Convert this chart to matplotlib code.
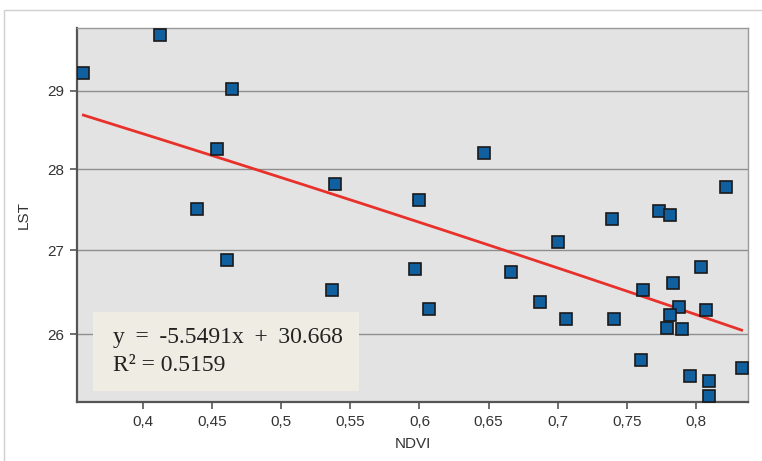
import numpy as np
import matplotlib
matplotlib.use("Agg")
import matplotlib.pyplot as plt
from matplotlib.ticker import FixedLocator, FuncFormatter, NullLocator
from matplotlib.patches import Rectangle

ndvi = [0.3571, 0.4127, 0.4645, 0.4537, 0.5387, 0.4395,
        0.6464, 0.5994, 0.8217, 0.7391, 0.7733, 0.7808,
        0.4607, 0.5368,
        0.7001, 0.5965, 0.6661, 0.8034, 0.7829, 0.7615, 0.6873, 0.6071,
        0.7877, 0.8072, 0.7808, 0.7059, 0.7408, 0.7791, 0.7897, 0.7603,
        0.8328, 0.7955, 0.8092, 0.8092]
lst = [29.24, 29.74, 29.02, 28.25, 27.81, 27.50,
       28.20, 27.61, 27.78, 27.38, 27.48, 27.43,
       26.88, 26.52,
       27.10, 26.77, 26.74, 26.79, 26.60, 26.52, 26.38, 26.30,
       26.32, 26.28, 26.22, 26.18, 26.18, 26.07, 26.06, 25.70,
       25.61, 25.52, 25.46, 25.29]
slope, intercept = -5.5491, 30.668
r2 = 0.5159
xticks = [0.4, 0.45, 0.5, 0.55, 0.6, 0.65, 0.7, 0.75, 0.8]
yticks = [26, 27, 28, 29]

W, H = 762, 461
fig = plt.figure(figsize=(W / 100, H / 100), dpi=100)
fig.patch.set_facecolor("white")

# outer chart border
fig.patches.append(Rectangle((4 / W, -0.1), 1.2, 1 - 10 / H + 0.1, transform=fig.transFigure,
                             fill=False, edgecolor="#cfcfcf", linewidth=1.0))

ax = fig.add_axes([77 / W, 1 - 402 / H, (748 - 77) / W, (402 - 28) / H])
ax.set_facecolor("#e3e3e3")
ax.set_yscale("log")
ax.set_xlim(0.3525, 0.8374)
ax.set_ylim(25.22, 29.83)

ax.yaxis.set_major_locator(FixedLocator(yticks))
ax.yaxis.set_minor_locator(NullLocator())
ax.yaxis.set_major_formatter(FuncFormatter(lambda v, p: f"{v:g}"))
ax.xaxis.set_major_locator(FixedLocator(xticks))
ax.xaxis.set_major_formatter(FuncFormatter(lambda v, p: f"{v:g}".replace(".", ",")))

ax.grid(axis="y", color="#8e8e8e", linewidth=1.0)
ax.set_axisbelow(True)

for s in ["top", "right"]:
    ax.spines[s].set_color("#9a9a9a")
    ax.spines[s].set_linewidth(1.0)
for s in ["left", "bottom"]:
    ax.spines[s].set_color("#555555")
    ax.spines[s].set_linewidth(1.6)

ax.tick_params(axis="both", direction="out", length=5, width=1.2, color="#555555",
               labelsize=11, labelcolor="#333333", pad=4)
for lab in ax.get_xticklabels() + ax.get_yticklabels():
    lab.set_family("Liberation Sans")

ax.set_xlabel("NDVI", family="Liberation Sans", fontsize=11, color="#333333", labelpad=6)
ax.set_ylabel("LST", family="Liberation Sans", fontsize=11, color="#333333", labelpad=12)

xs = np.linspace(min(ndvi), max(ndvi), 200)
ax.plot(xs, slope * xs + intercept, color="#e8312a", linewidth=2.0, zorder=3)

ax.plot(ndvi, lst, linestyle="none", marker="s", markersize=8,
        markerfacecolor="#10609f", markeredgecolor="#1a1a1a", markeredgewidth=1.2, zorder=4)

# equation box
fig.patches.append(Rectangle((93 / W, 1 - 391 / H), (359 - 93) / W, (391 - 312) / H,
                             transform=fig.transFigure, facecolor="#eeece3",
                             edgecolor="none", zorder=5))
sp = " \u2009"
fig.text(113 / W, 1 - 343 / H, f"y{sp}={sp}{slope}x{sp}+{sp}{intercept}", family="Liberation Serif",
         fontsize=17, color="#222222", va="baseline", ha="left", zorder=6)
fig.text(113 / W, 1 - 371 / H, f"R² = {r2}", family="Liberation Serif",
         fontsize=17, color="#222222", va="baseline", ha="left", zorder=6)

fig.savefig("out.png", dpi=100)
